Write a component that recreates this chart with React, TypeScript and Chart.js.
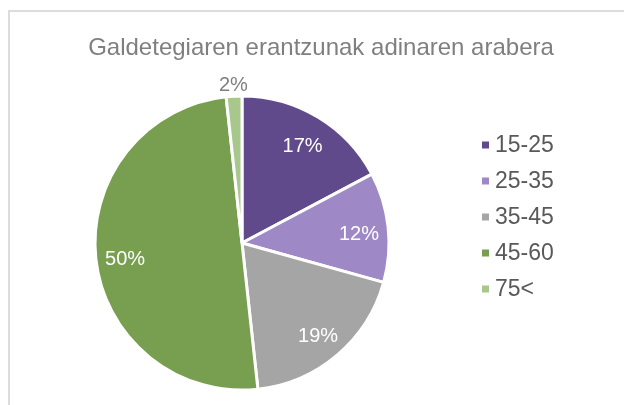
import React, { useEffect, useRef } from "react";
import { Chart, registerables } from "chart.js";

Chart.register(...registerables);

const chartTitle = "Galdetegiaren erantzunak adinaren arabera";
const categories = ["15-25", "25-35", "35-45", "45-60", "75<"];
const counts = [10, 7, 11, 29, 1];
const sliceColors = ["#604A8B", "#9E88C6", "#A5A5A5", "#789E50", "#A8C78D"];

const FONT = "'Liberation Sans', Arial, Helvetica, sans-serif";

const titlePlugin = {
  id: "customTitle",
  afterDraw(chart: any) {
    const ctx = chart.ctx;
    ctx.save();
    ctx.font = `24px ${FONT}`;
    ctx.fillStyle = "#7F7F7F";
    ctx.textAlign = "center";
    ctx.textBaseline = "middle";
    ctx.fillText(chartTitle, 321, 48);
    ctx.restore();
  },
};

const legendPlugin = {
  id: "sideLegend",
  afterDraw(chart: any) {
    const ctx = chart.ctx;
    const x0 = chart.chartArea.right - 2;
    ctx.save();
    ctx.font = `23px ${FONT}`;
    ctx.textAlign = "left";
    ctx.textBaseline = "middle";
    categories.forEach((label, i) => {
      const y = 145 + i * 36;
      ctx.fillStyle = sliceColors[i];
      ctx.fillRect(x0, y - 3.5, 7, 7);
      ctx.fillStyle = "#595959";
      ctx.fillText(label, x0 + 13, y + 1);
    });
    ctx.restore();
  },
};

const pctLabelPlugin = {
  id: "pctLabels",
  afterDatasetsDraw(chart: any) {
    const ctx = chart.ctx;
    const meta = chart.getDatasetMeta(0);
    const total = counts.reduce((a, b) => a + b, 0);
    ctx.save();
    ctx.font = `20px ${FONT}`;
    ctx.textAlign = "center";
    ctx.textBaseline = "middle";
    meta.data.forEach((arc: any, i: number) => {
      const { x, y, startAngle, endAngle, outerRadius } = arc.getProps(
        ["x", "y", "startAngle", "endAngle", "outerRadius"],
        true
      );
      const mid = (startAngle + endAngle) / 2;
      const pct = Math.round((counts[i] / total) * 100);
      const small = pct < 5;
      const r = small ? outerRadius + 12 : outerRadius * 0.8;
      ctx.fillStyle = small ? "#7F7F7F" : "#FFFFFF";
      ctx.fillText(
        pct + "%",
        x + Math.cos(mid) * r,
        y + Math.sin(mid) * r + (small ? 1 : 4)
      );
    });
    ctx.restore();
  },
};

export default function App() {
  const canvasRef = useRef<HTMLCanvasElement | null>(null);

  useEffect(() => {
    if (!canvasRef.current) return;
    const chart = new Chart(canvasRef.current, {
      type: "pie",
      data: {
        labels: categories,
        datasets: [
          {
            data: counts,
            backgroundColor: sliceColors,
            borderColor: "#FFFFFF",
            borderWidth: 3,
            radius: 147,
          } as any,
        ],
      },
      options: {
        responsive: false,
        animation: false,
        layout: { padding: { left: 0, right: 140, top: 90, bottom: 9 } },
        plugins: {
          legend: { display: false },
          title: { display: false },
          tooltip: { enabled: false },
        },
      },
      plugins: [pctLabelPlugin, titlePlugin, legendPlugin],
    });
    return () => chart.destroy();
  }, []);

  return (
    <div>
      <div
        style={{
          position: "fixed",
          left: 8,
          top: 10,
          width: 614,
          height: 393,
          borderLeft: "2px solid #DCDCDC",
          borderTop: "2px solid #DCDCDC",
        }}
      />
      <canvas
        ref={canvasRef}
        width={624}
        height={405}
        style={{ position: "fixed", left: 0, top: 0, width: 624, height: 405 }}
      />
    </div>
  );
}
